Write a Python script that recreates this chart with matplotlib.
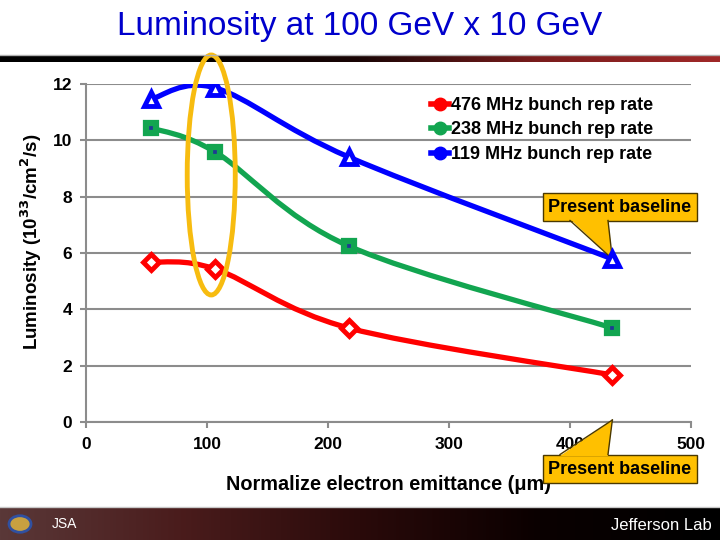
import numpy as np
import matplotlib
matplotlib.use("Agg")
import matplotlib.pyplot as plt
from matplotlib.path import Path
from matplotlib.patches import PathPatch, Ellipse, Circle, Polygon
from matplotlib.transforms import IdentityTransform

plt.rcParams["font.family"] = ["Liberation Sans", "DejaVu Sans"]

emittance = [54, 107, 217, 435]
lum_476 = [5.68, 5.43, 3.34, 1.67]
lum_238 = [10.44, 9.58, 6.25, 3.34]
lum_119 = [11.47, 11.86, 9.41, 5.79]
labels = ["476 MHz bunch rep rate", "238 MHz bunch rep rate", "119 MHz bunch rep rate"]
baseline_x = emittance[3]
baseline_y = lum_119[3]

fig = plt.figure(figsize=(7.2, 5.4), dpi=100)
W, H = 720, 540


def fpx(x, y):
    return x / W, 1 - y / H


# header and footer bands
grad = np.linspace(0, 1, 256).reshape(1, -1)
top = fig.add_axes([0, 1 - 62 / H, 1, 7 / H])
top.axis("off")
cm_top = matplotlib.colors.LinearSegmentedColormap.from_list(
    "t", ["#000000", "#000000", "#1a0505", "#7a1c1c", "#a02828"])
top.imshow(grad, aspect="auto", cmap=cm_top, extent=[0, 1, 0, 1])
fig.add_artist(plt.Line2D([0, 1], [1 - 54.5 / H] * 2, color="#b0b0b0", lw=1))

foot = fig.add_axes([0, 0, 1, 33 / H])
foot.axis("off")
cm_foot = matplotlib.colors.LinearSegmentedColormap.from_list(
    "f", ["#5a3838", "#4a1c1c", "#2a0a0a", "#0a0000", "#000000"])
foot.imshow(grad, aspect="auto", cmap=cm_foot, extent=[0, 1, 0, 1])
fig.add_artist(plt.Line2D([0, 1], [33.5 / H] * 2, color="#c8c8c8", lw=1))
fig.add_artist(Circle(fpx(20, 524), 11 / W, transform=fig.transFigure,
                      facecolor="#c8a040", edgecolor="#3050a0", lw=2))
fig.text(*fpx(52, 524), "JSA", color="white", fontsize=10, ha="left", va="center")
fig.text(*fpx(712, 525), "Jefferson Lab", color="white", fontsize=12,
         ha="right", va="center")

fig.text(*fpx(360, 27), "Luminosity at 100 GeV x 10 GeV", color="#0000cc",
         fontsize=24, ha="center", va="center")

ax = fig.add_axes([86 / W, 1 - 422 / H, (691 - 86) / W, (422 - 84) / H])
ax.set_xlim(0, 500)
ax.set_ylim(0, 12)
ax.set_xticks([0, 100, 200, 300, 400, 500])
ax.set_yticks([0, 2, 4, 6, 8, 10, 12])
ax.grid(axis="y", color="#8c8c8c", lw=1.5)
ax.set_axisbelow(True)
for s in ["top", "right"]:
    ax.spines[s].set_visible(False)
for s in ["left", "bottom"]:
    ax.spines[s].set_color("#8c8c8c")
    ax.spines[s].set_linewidth(1.5)
ax.tick_params(colors="#8c8c8c", width=1.5, length=4, labelcolor="black",
               labelsize=12.5)
ax.tick_params(axis="x", pad=7)
ax.tick_params(axis="y", pad=6)
for t in ax.get_xticklabels() + ax.get_yticklabels():
    t.set_fontweight("bold")

ax.set_xlabel("Normalize electron emittance (\u03bcm)", fontsize=14.3,
              fontweight="bold", labelpad=16)
ax.set_ylabel("Luminosity (10$^{\\mathbf{33}}$/cm$^{\\mathbf{2}}$/s)", fontsize=13.5,
              fontweight="bold")
ax.yaxis.set_label_coords(-0.069, (422 - 242) / 338)


def smooth_path(xs, ys):
    # Excel-style smoothed line: Catmull-Rom as cubic Bezier, built in pixel space
    pts = ax.transData.transform(np.column_stack([xs, ys]))
    n = len(pts)
    verts = [pts[0]]
    codes = [Path.MOVETO]
    for i in range(n - 1):
        p0 = pts[max(i - 1, 0)]
        p1 = pts[i]
        p2 = pts[i + 1]
        p3 = pts[min(i + 2, n - 1)]
        c1 = p1 + (p2 - p0) / 6
        c2 = p2 - (p3 - p1) / 6
        verts += [c1, c2, p2]
        codes += [Path.CURVE4] * 3
    verts = ax.transData.inverted().transform(np.array(verts))
    return Path(verts, codes)


series = [
    (lum_476, "#ff0000", dict(marker="D", ms=8, mfc="white", mec="#ff0000", mew=3.5)),
    (lum_238, "#12a550", dict(marker="s", ms=7, mfc="#1f3a93", mec="#12a550", mew=4.5)),
    (lum_119, "#0000ff", dict(marker="^", ms=10, mfc="white", mec="#0000ff", mew=3.5)),
]
handles = []
for ys, col, mk in series:
    ax.add_patch(PathPatch(smooth_path(emittance, ys), facecolor="none",
                           edgecolor=col, lw=3.8, capstyle="round", zorder=3))
    ax.plot(emittance, ys, linestyle="none", zorder=4, **mk)
    h, = ax.plot([], [], color=col, lw=4, marker="o", ms=9, mfc=col, mec=col)
    handles.append(h)

leg = ax.legend(handles, labels, loc="upper right", bbox_to_anchor=(0.965, 1.01),
                frameon=False, handlelength=1.0, handletextpad=0.15,
                labelspacing=0.42, prop=dict(weight="bold", size=13))

ax.add_patch(Ellipse((103.5, 8.77), 39.7, 8.52, facecolor="none",
                     edgecolor="#f7bc10", lw=3.5, clip_on=False, zorder=5))

# callouts: box with a wedge pointing at the baseline (markers stay on top)
box = dict(boxstyle="square,pad=0.3", fc="#ffc000", ec="#4a3800", lw=1)
fill = "#ffc000"
edge = "#4a3800"


def callout(text_y, tip, base_l, base_r, base_y):
    ax.text(620, H - text_y, "Present baseline", transform=IdentityTransform(),
            ha="center", va="center", fontsize=13, fontweight="bold",
            bbox=box, zorder=3.3, clip_on=False)
    tx, ty = ax.transData.transform(tip)
    by = H - base_y
    inner = by + (1.5 if base_y < 300 else -1.5)
    ax.add_patch(Polygon([(base_l, inner), (tx, ty), (base_r, inner)],
                         transform=IdentityTransform(), fc=fill, ec="none",
                         zorder=3.5, clip_on=False))
    for bx in (base_l, base_r):
        ax.add_line(plt.Line2D([bx, tx], [by, ty], color=edge, lw=1,
                               transform=IdentityTransform(), zorder=3.6,
                               clip_on=False))


callout(207, (baseline_x, baseline_y), 570, 608, 220.5)
callout(469, (baseline_x, 0.07), 560, 608, 454.5)

fig.savefig("out.png", dpi=100)
